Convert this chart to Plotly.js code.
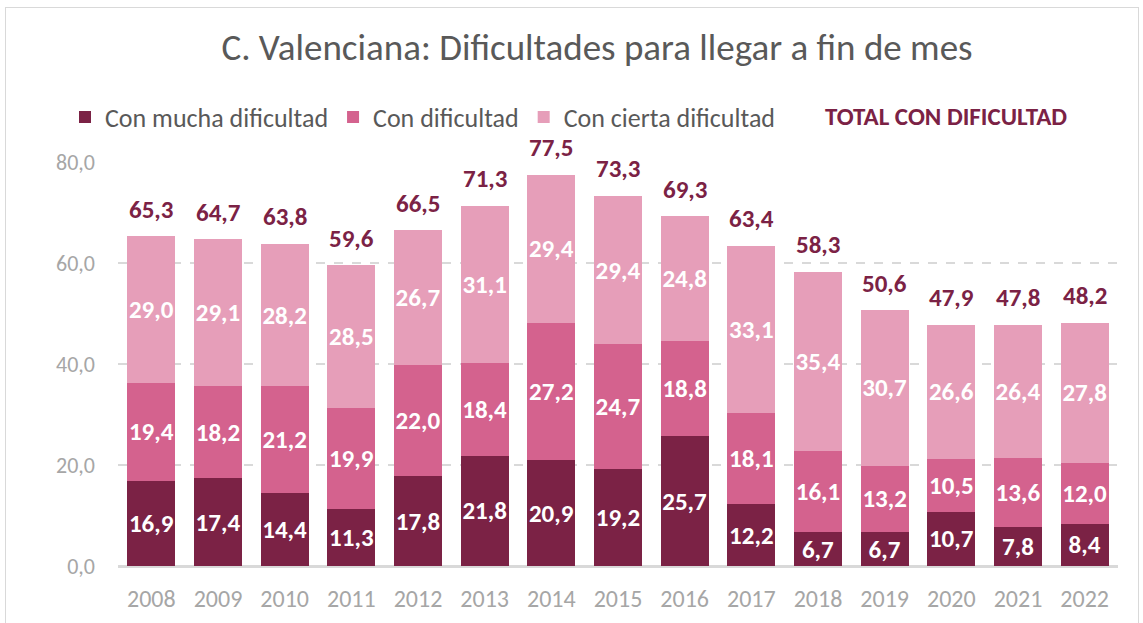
<!DOCTYPE html>
<html>
<head>
<meta charset="utf-8">
<script src="https://cdn.plot.ly/plotly-3.0.1.min.js"></script>
<style>
  html, body { margin: 0; padding: 0; background: #fff; }
  #frame { position: absolute; left: 5px; top: 7px; width: 1134px; height: 640px; border: 1.5px solid #D9D9D9; box-sizing: border-box; pointer-events: none; }
  #chart { width: 1143px; height: 623px; }
</style>
</head>
<body>
<div id="chart"></div>
<div id="frame"></div>
<script>
const years = ['2008','2009','2010','2011','2012','2013','2014','2015','2016','2017','2018','2019','2020','2021','2022'];
const muchaDificultad = [16.9,17.4,14.4,11.3,17.8,21.8,20.9,19.2,25.7,12.2,6.7,6.7,10.7,7.8,8.4];
const conDificultad = [19.4,18.2,21.2,19.9,22.0,18.4,27.2,24.7,18.8,18.1,16.1,13.2,10.5,13.6,12.0];
const ciertaDificultad = [29.0,29.1,28.2,28.5,26.7,31.1,29.4,29.4,24.8,33.1,35.4,30.7,26.6,26.4,27.8];
const totalDificultad = [65.3,64.7,63.8,59.6,66.5,71.3,77.5,73.3,69.3,63.4,58.3,50.6,47.9,47.8,48.2];
const seriesNames = ['Con mucha dificultad','Con dificultad','Con cierta dificultad'];
const totalLabel = 'TOTAL CON DIFICULTAD';
const titleText = 'C. Valenciana: Dificultades para llegar a fin de mes';
const yTicks = [0,20,40,60,80];

const FONT = 'Carlito, Calibri, Lato, sans-serif';
const colors = ['#7B2245','#D4628E','#E69EB9'];
const fmt = v => v.toFixed(1).replace('.', ',');

const seriesData = [muchaDificultad, conDificultad, ciertaDificultad];
const traces = seriesData.map((vals, i) => ({
  type: 'bar',
  name: seriesNames[i],
  x: years,
  y: vals,
  marker: { color: colors[i], line: { width: 0 } },
  text: vals.map(fmt),
  textposition: 'inside',
  insidetextanchor: 'middle',
  textangle: 0,
  constraintext: 'none',
  textfont: { family: FONT, size: 25, color: '#FFFFFF', weight: 'bold' },
  hoverinfo: 'x+y+name'
}));

const annotations = years.map((yr, i) => ({
  x: i, y: totalDificultad[i], xref: 'x', yref: 'y',
  text: '<b>' + fmt(totalDificultad[i]) + '</b>',
  showarrow: false, yshift: 27,
  font: { family: FONT, size: 25, color: '#7B2245' }
}));
annotations.push({
  xref: 'paper', yref: 'paper', x: (946 - 118) / 1000, y: 1 + (162 - 117) / 404,
  xanchor: 'center', yanchor: 'middle',
  text: '<b>' + totalLabel + '</b>', showarrow: false,
  font: { family: FONT, size: 25, color: '#7B2245' }
});

const layout = {
  width: 1143, height: 623,
  margin: { l: 118, r: 25, t: 162, b: 57 },
  paper_bgcolor: '#FFFFFF', plot_bgcolor: '#FFFFFF',
  barmode: 'stack',
  bargap: 0.28,
  separators: ',.',
  showlegend: true,
  title: {
    text: titleText,
    font: { family: FONT, size: 37, color: '#595959' },
    xref: 'container', x: 597/1143, xanchor: 'center',
    yref: 'container', y: 1 - 47/623, yanchor: 'middle'
  },
  legend: {
    orientation: 'h',
    xref: 'container', yref: 'container',
    x: 65/1143, y: 1 - 117/623, xanchor: 'left', yanchor: 'middle',
    font: { family: FONT, size: 26, color: '#595959' },
    itemwidth: 30, traceorder: 'normal', itemclick: false
  },
  xaxis: {
    type: 'category',
    range: [-0.5, years.length - 0.5],
    tickfont: { family: FONT, size: 24, color: '#A6A6A6' },
    showgrid: false, showline: false, ticks: '', zeroline: false,
    ticklabelstandoff: 16
  },
  yaxis: {
    range: [0, 80],
    tickvals: yTicks,
    tickformat: '.1f',
    tickfont: { family: FONT, size: 22, color: '#A6A6A6' },
    showgrid: true, gridcolor: '#D9D9D9', griddash: 'dash', gridwidth: 1.3,
    zeroline: true, zerolinecolor: '#D9D9D9', zerolinewidth: 3,
    showline: false, ticks: '', ticklabelstandoff: 22
  },
  annotations: annotations
};

Plotly.newPlot('chart', traces, layout, { displayModeBar: false, staticPlot: true });
</script>
</body>
</html>
